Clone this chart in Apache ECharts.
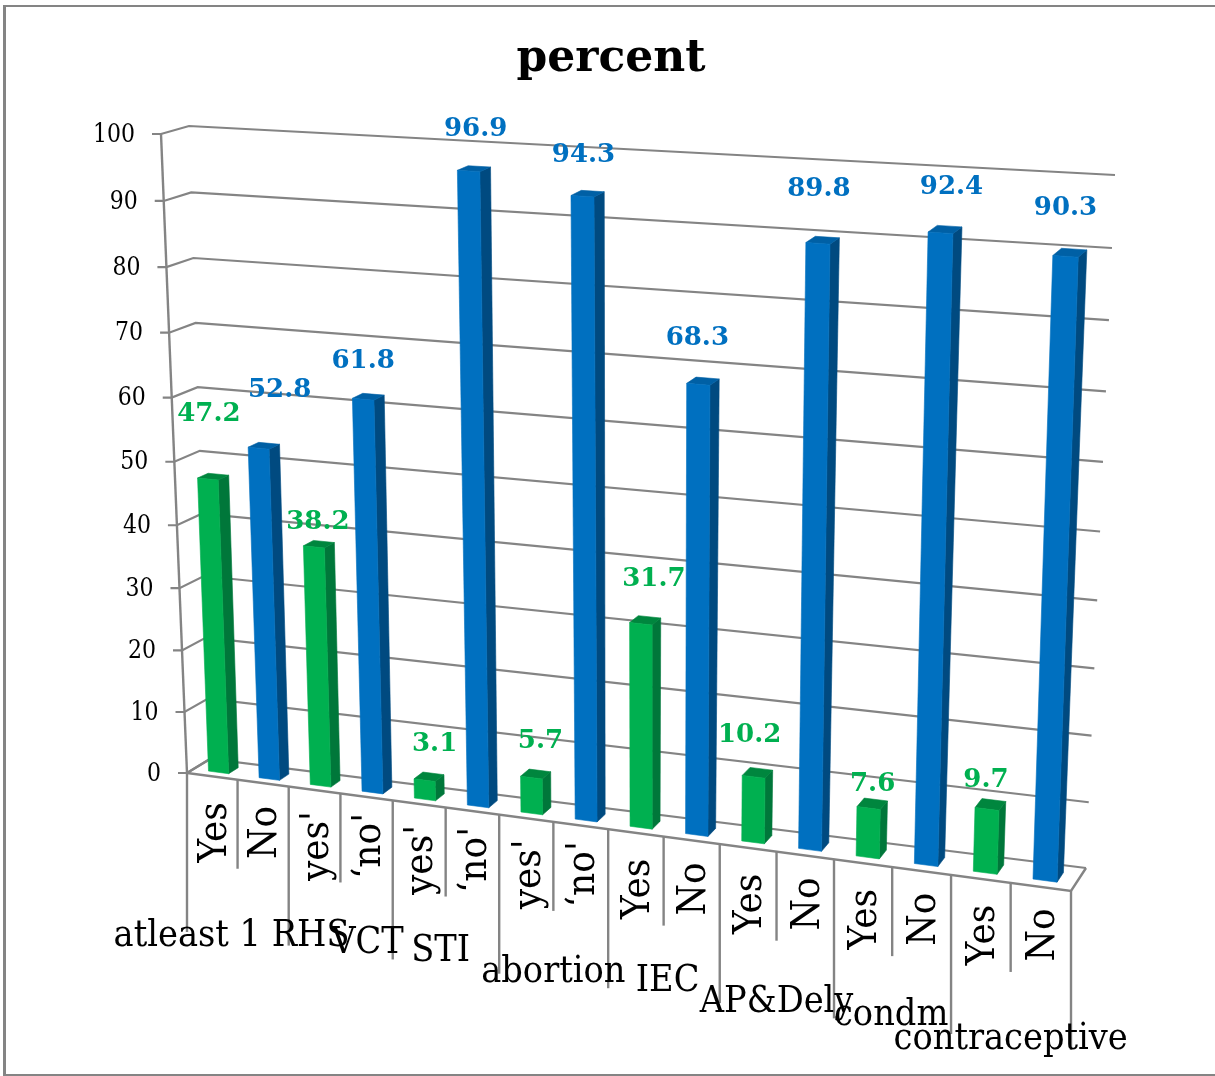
<!DOCTYPE html>
<html>
<head>
<meta charset="utf-8">
<style>
  html, body { margin: 0; padding: 0; background: #fff; }
  #main { width: 1215px; height: 1076px; }
</style>
<script src="https://cdn.jsdelivr.net/npm/echarts@6/dist/echarts.min.js"></script>
</head>
<body>
<div id="main"></div>
<script>
const categories = ["Yes", "No", "yes'", "\u2018no'", "yes'", "\u2018no'", "yes'", "\u2018no'", "Yes", "No", "Yes", "No", "Yes", "No", "Yes", "No"];
const groupNames = ["atleast 1 RHS", "VCT", "STI", "abortion", "IEC", "AP&Dely", "condm", "contraceptive"];
const yesValues = [47.2, 38.2, 3.1, 5.7, 31.7, 10.2, 7.6, 9.7];
const noValues = [52.8, 61.8, 96.9, 94.3, 68.3, 89.8, 92.4, 90.3];
const yTicks = [0, 10, 20, 30, 40, 50, 60, 70, 80, 90, 100];

// the picture is a skewed 3D chart: two planes, front and back of the plot box
const frontPlane = [[161, 134], [1094, 192], [1071, 891], [187, 773]];
const backPlane = [[189, 126], [1115, 175], [1086, 868], [210, 759]];

// offsets of the value labels from the top of their bar
const yesLabelOffset = [[1, -64], [4, -24], [10, -35], [9, -35], [13, -43], [-4, -40], [4, -22], [-1, -27]];
const noLabelOffset = [[21, -57], [0, -37], [7, -41], [1, -40], [-1, -45], [1, -53], [11, -45], [0, -47]];
const groupLabelOffset = [[-6, 157], [27, 150], [-5, 144], [0, 150], [4, 145], [0, 151], [-1, 148], [0, 156]];

const FONT = "'DejaVu Serif', serif";
const GREY = "#848484";
const W = 1215;
const H = 1076;

function homography(q) {
  const [p0, p1, p2, p3] = q;
  const dx1 = p1[0] - p2[0], dx2 = p3[0] - p2[0], sx = p0[0] - p1[0] + p2[0] - p3[0];
  const dy1 = p1[1] - p2[1], dy2 = p3[1] - p2[1], sy = p0[1] - p1[1] + p2[1] - p3[1];
  const den = dx1 * dy2 - dx2 * dy1;
  const g = (sx * dy2 - dx2 * sy) / den;
  const h = (dx1 * sy - sx * dy1) / den;
  const a = p1[0] - p0[0] + g * p1[0], b = p3[0] - p0[0] + h * p3[0];
  const d = p1[1] - p0[1] + g * p1[1], e = p3[1] - p0[1] + h * p3[1];
  return (u, v) => {
    const w = g * u + h * v + 1;
    return [(a * u + b * v + p0[0]) / w, (d * u + e * v + p0[1]) / w];
  };
}

const front = homography(frontPlane);
const back = homography(backPlane);

// flat pixel from the axes -> skewed pixel; depth 0 is the front plane, 1 the back wall
function warp(px, py, depth) {
  const u = px / W, v = py / H;
  const f = front(u, v), b = back(u, v);
  return [f[0] + (b[0] - f[0]) * depth, f[1] + (b[1] - f[1]) * depth];
}

const line = (points, width) => ({
  type: "polyline",
  silent: true,
  shape: { points },
  style: { stroke: GREY, lineWidth: width || 2.2, fill: null },
});
const face = (points, color) => ({
  type: "polygon",
  silent: true,
  shape: { points },
  style: { fill: color, stroke: color, lineWidth: 0.6 },
});
const label = (text, x, y, size, color, extra) => ({
  type: "text",
  silent: true,
  x,
  y,
  style: Object.assign({
    text,
    fill: color,
    font: size + "px " + FONT,
    align: "center",
    verticalAlign: "middle",
  }, extra || {}),
});

function renderWall(params, api) {
  const tick = api.value(1);
  const y = api.coord([0, tick])[1];
  const a = warp(0, y, 0), b = warp(0, y, 1), c = warp(W, y, 1);
  const text = label(String(tick), a[0] - 26, a[1] + 1, 22, "#000", { align: "right" });
  text.scaleY = 1.15;
  return {
    type: "group",
    children: [line([[a[0] - 9, a[1]], a, b, c]), text],
  };
}

function renderFrame() {
  const top = warp(0, 0, 0), bottom = warp(0, H, 0), right = warp(W, H, 0), rightBack = warp(W, H, 1);
  return {
    type: "group",
    children: [
      line([top, bottom], 2.4),
      line([warp(0, H, 1), bottom, right, rightBack], 2.4),
    ],
  };
}

function renderBar(colors, values, offsets) {
  return function (params, api) {
    const i = api.value(0), value = api.value(1);
    const half = api.size([1, 0])[0] * 0.2;
    const top = api.coord([i, value]);
    const base = api.coord([i, 0]);
    const d0 = 0.28, d1 = 0.7;
    const fl = warp(top[0] - half, top[1], d0), fr = warp(top[0] + half, top[1], d0);
    const bl = warp(top[0] - half, top[1], d1), br = warp(top[0] + half, top[1], d1);
    const flb = warp(base[0] - half, base[1], d0), frb = warp(base[0] + half, base[1], d0);
    const brb = warp(base[0] + half, base[1], d1);
    const offset = offsets[params.dataIndex];
    return {
      type: "group",
      children: [
        face([fr, br, brb, frb], colors[1]),
        face([fl, fr, br, bl], colors[2]),
        face([fl, fr, frb, flb], colors[0]),
        label(values[params.dataIndex].toFixed(1), (fl[0] + fr[0]) / 2 + offset[0], fl[1] + offset[1], 26, colors[0], {
          font: "bold 26px " + FONT,
        }),
      ],
    };
  };
}

function renderCategory(params, api) {
  const i = api.value(0);
  const slot = api.size([1, 0])[0];
  const px = api.coord([i, 0])[0];
  const floor = api.coord([i, 0])[1];
  const edgeLeft = warp(px - slot / 2, floor, 0);
  const edgeRight = warp(px + slot / 2, floor, 0);
  const first = warp(api.coord([i - i % 2, 0])[0], floor, 0);
  const isGroupEdge = i % 2 === 0;
  const text = label(categories[i], (edgeLeft[0] + edgeRight[0]) / 2 + 3, first[1] + 56, 36, "#000");
  text.rotation = Math.PI / 2;
  text.scaleY = 1.1;
  const children = [text];
  children.push(line([edgeLeft, [edgeLeft[0], edgeLeft[1] + (isGroupEdge ? 159 : 89)]], 2.4));
  if (i === categories.length - 1) {
    children.push(line([edgeRight, [edgeRight[0], edgeRight[1] + 159]], 2.4));
  }
  return { type: "group", children };
}

function renderGroup(params, api) {
  const g = api.value(0);
  const slot = api.size([1, 0])[0];
  const coord = api.coord([g * 2, 0]);
  const mid = warp(coord[0] + slot / 2, coord[1], 0);
  const offset = groupLabelOffset[g];
  const text = label(groupNames[g], mid[0] + offset[0], mid[1] + offset[1], 33.7, "#000");
  text.scaleY = 1.1;
  return text;
}

const chart = echarts.init(document.getElementById("main"));

const option = {
  animation: false,
  backgroundColor: "#fff",
  title: {
    text: "percent",
    left: 606,
    top: 33,
    textAlign: "center",
    textStyle: { fontFamily: FONT, fontWeight: "bold", fontSize: 44, color: "#000" },
  },
  graphic: [
    {
      type: "rect",
      silent: true,
      shape: { x: 4, y: 6, width: 1215, height: 1069 },
      style: { fill: null, stroke: GREY, lineWidth: 2 },
    },
    {
      type: "rect",
      silent: true,
      shape: { x: 3, y: 5, width: 3, height: 1071 },
      style: { fill: GREY },
    },
  ],
  grid: { left: 0, right: 0, top: 0, bottom: 0 },
  xAxis: { type: "category", data: categories, show: false },
  yAxis: { type: "value", min: 0, max: 100, show: false },
  series: [
    { type: "custom", coordinateSystem: "cartesian2d", renderItem: renderWall, data: yTicks.map((t) => [0, t]), z: 1 },
    { type: "custom", coordinateSystem: "cartesian2d", renderItem: renderFrame, data: [[0, 0]], z: 1 },
    { type: "custom", coordinateSystem: "cartesian2d", renderItem: renderCategory, data: categories.map((c, i) => [i, 0]), z: 2 },
    { type: "custom", coordinateSystem: "cartesian2d", renderItem: renderGroup, data: groupNames.map((n, i) => [i, 0]), z: 2 },
    {
      type: "custom",
      coordinateSystem: "cartesian2d",
      renderItem: renderBar(["#00B050", "#00773A", "#00863E"], yesValues, yesLabelOffset),
      data: yesValues.map((v, i) => [i * 2, v]),
      z: 3,
    },
    {
      type: "custom",
      coordinateSystem: "cartesian2d",
      renderItem: renderBar(["#0070C0", "#004A80", "#0060A5"], noValues, noLabelOffset),
      data: noValues.map((v, i) => [i * 2 + 1, v]),
      z: 3,
    },
  ],
};

chart.setOption(option);
</script>
</body>
</html>
